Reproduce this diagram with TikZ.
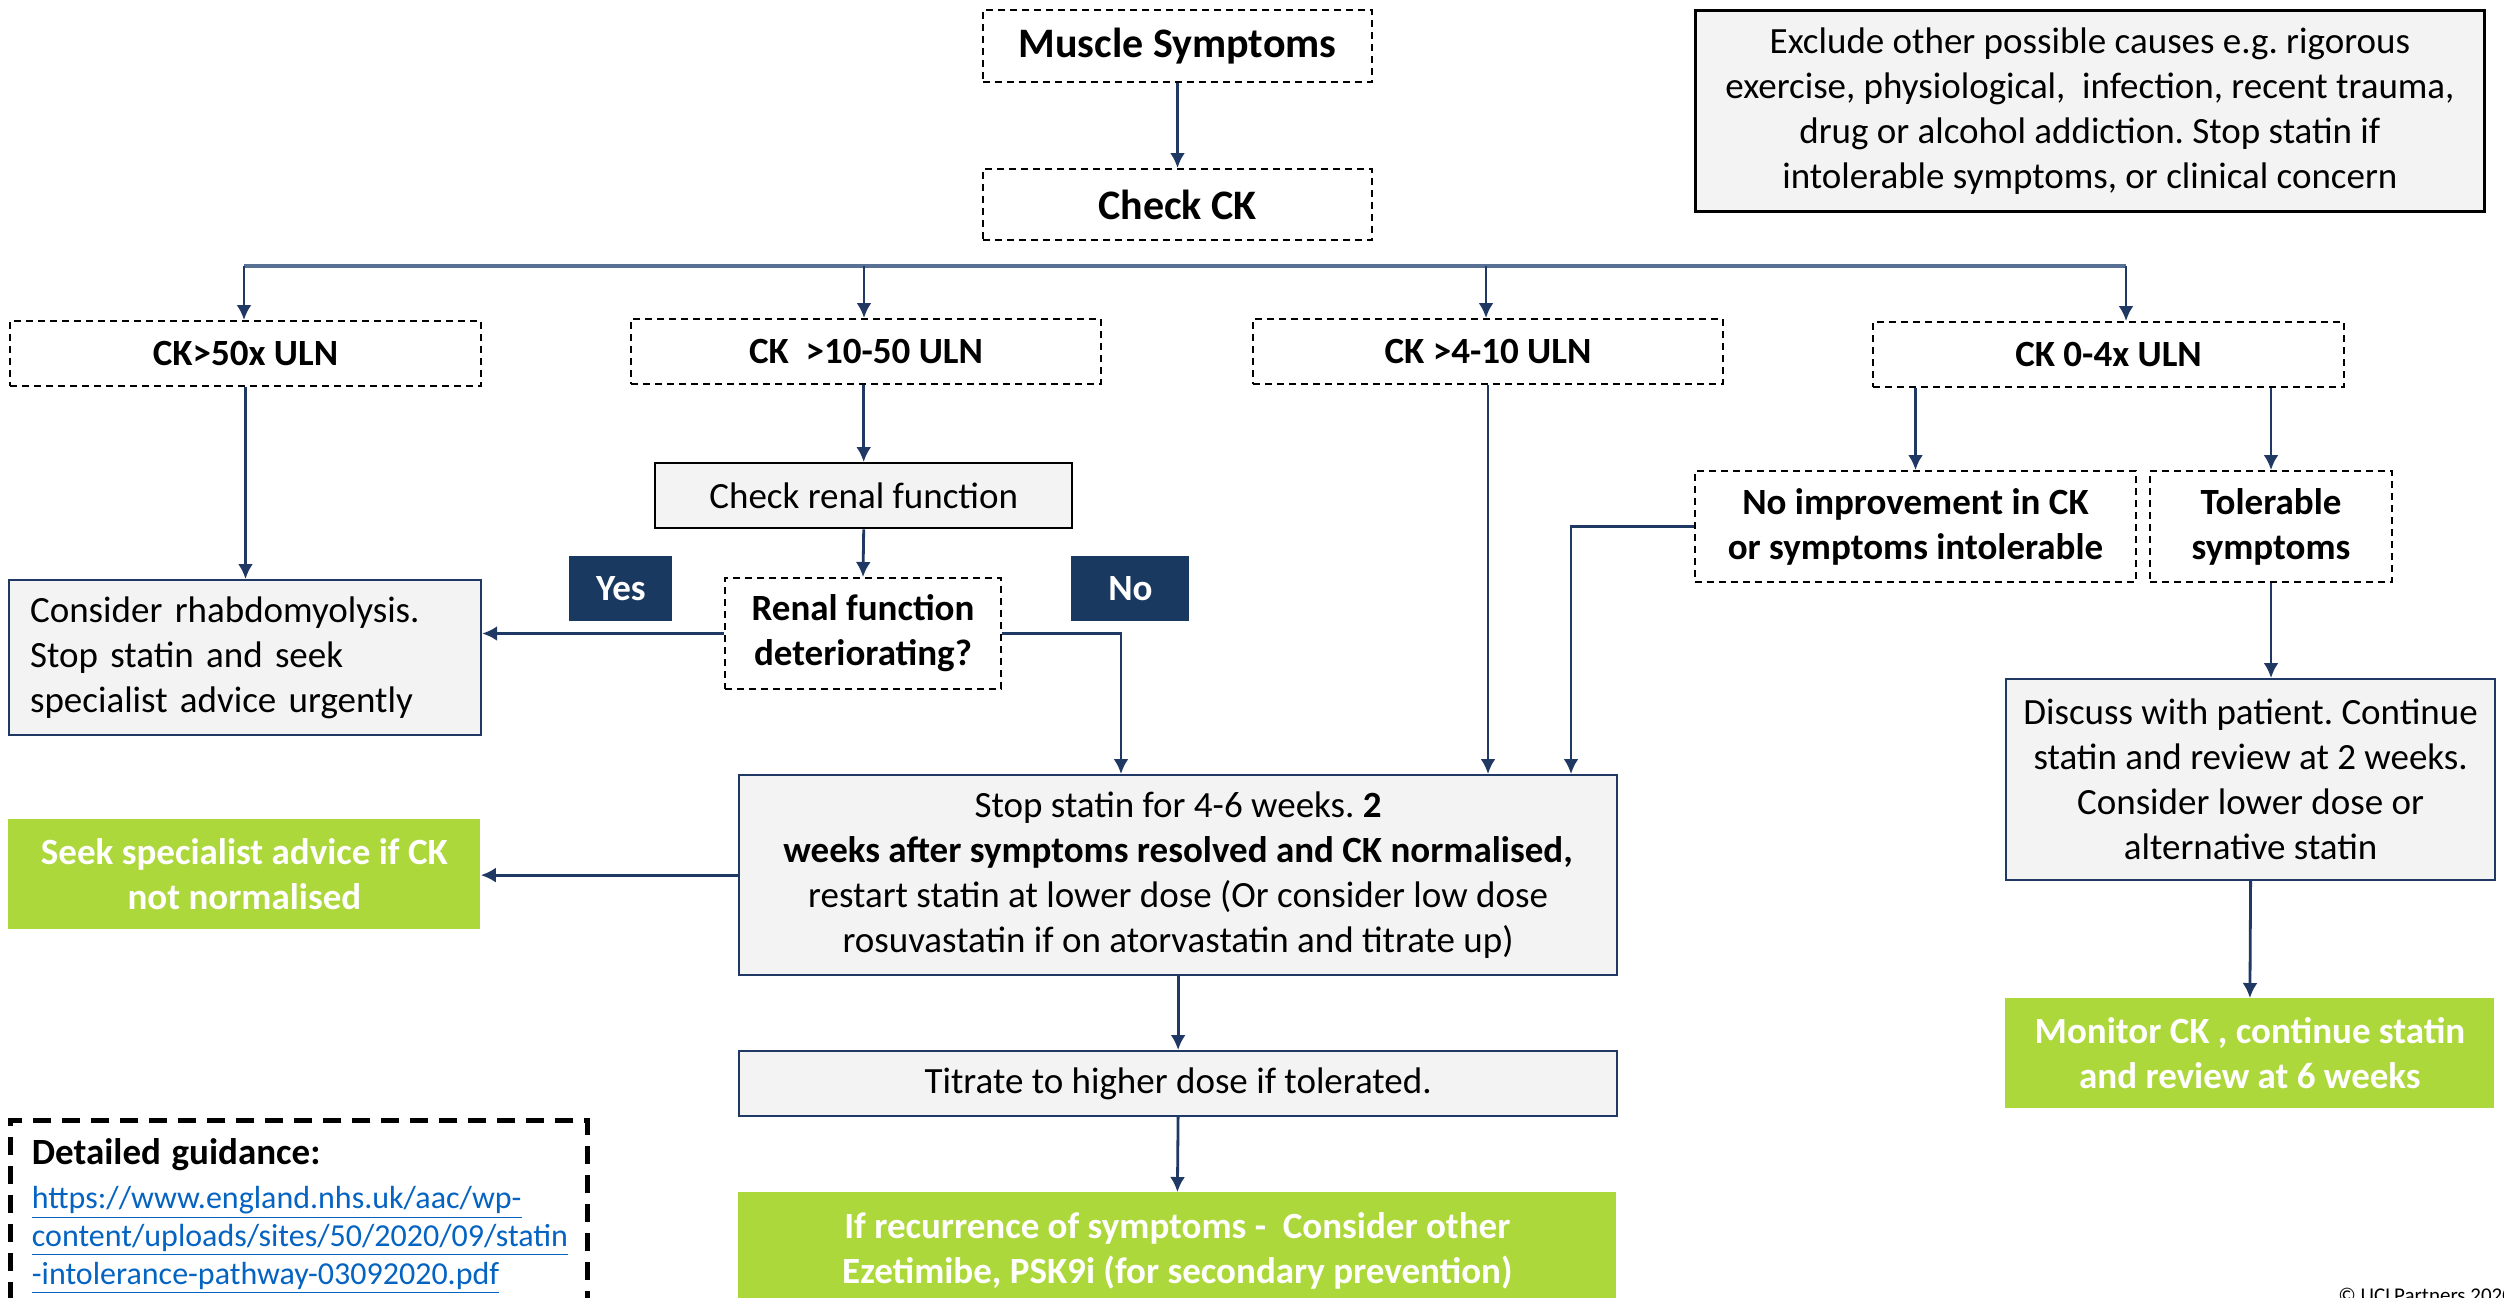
\documentclass[tikz,border=0pt]{standalone}
\usepackage{fontspec}
\setmainfont{Carlito}
\usetikzlibrary{arrows.meta,calc}
\definecolor{navy}{RGB}{31,56,100}
\definecolor{busc}{RGB}{88,112,148}
\definecolor{boxgray}{RGB}{243,243,243}
\definecolor{lime}{RGB}{173,216,60}
\definecolor{linkblue}{RGB}{5,99,193}
\definecolor{tagfill}{RGB}{26,57,96}
\newcommand\myfs[2]{\fontsize{#1}{#2}\selectfont}
\newcommand\mkbox[7]{%
  \pgfmathsetmacro\mkw{(#5-#3)*0.5}%
  \pgfmathsetmacro\mkh{(#6-#4)*0.5}%
  \node[#2, minimum width=\mkw pt, minimum height=\mkh pt, anchor=north west] (#1) at (#3,#4) {#7};%
}
\frenchspacing
\begin{document}
\begin{tikzpicture}[x=0.5pt,y=-0.5pt,
  basebox/.style={inner sep=2pt, align=center, font=\myfs{18.5}{22.5}},
  dashbox/.style={basebox, draw=black, line width=1pt, dash pattern=on 3.5pt off 2.5pt, fill=white, font=\bfseries\myfs{18.5}{22.5}},
  bigdash/.style={dashbox, font=\bfseries\myfs{21}{25}},
  graybox/.style={basebox, draw=navy, line width=1.1pt, fill=boxgray},
  blackbox/.style={graybox, draw=black, line width=1.2pt},
  greenbox/.style={basebox, fill=lime, text=white, font=\bfseries\myfs{18.5}{22.5}},
  tagbox/.style={basebox, fill=tagfill, text=white, font=\bfseries\myfs{18.5}{22.5}},
  conn/.style={draw=navy, line width=1.4pt, -{Latex[length=7.5pt,width=7.5pt]}},
  busline/.style={draw=busc, line width=2pt}
]
\useasboundingbox (0,0) rectangle (2504,1297);
\clip (0,0) rectangle (2504,1297);

% top
\mkbox{ms}{bigdash}{982}{9}{1371}{81}{Muscle Symptoms}
\mkbox{chk}{bigdash}{982}{168}{1371}{239}{Check CK}
\mkbox{excl}{blackbox, line width=1.4pt}{1694}{9}{2483}{210}{Exclude other possible causes e.g. rigorous\\exercise, physiological,\ \ infection, recent trauma,\\drug or alcohol addiction. Stop statin if\\intolerable symptoms, or clinical concern}

% CK levels
\mkbox{ck50}{dashbox}{9}{320}{480}{385}{CK>50x ULN}
\mkbox{ck1050}{dashbox}{630}{318}{1100}{383}{CK\ \ >10-50 ULN}
\mkbox{ck410}{dashbox}{1252}{318}{1722}{383}{CK >4-10 ULN}
\mkbox{ck04}{dashbox}{1872}{321}{2343}{386}{CK 0-4x ULN}

% middle
\mkbox{renal}{blackbox}{654}{462}{1071}{527}{Check renal function}
\mkbox{det}{dashbox}{724}{577}{1000}{688}{Renal function\\deteriorating?}
\mkbox{yes}{tagbox}{569}{556}{672}{621}{Yes}
\mkbox{no}{tagbox}{1071}{556}{1189}{621}{No}
\mkbox{rhabdo}{graybox, align=left, text width=215pt}{8}{579}{480}{734}{Consider rhabdomyolysis.\\Stop statin and seek\\specialist advice urgently}
\mkbox{noimp}{dashbox}{1694}{470}{2135}{581}{No improvement in CK\\or symptoms intolerable}
\mkbox{tol}{dashbox}{2149}{470}{2391}{581}{Tolerable\\symptoms}
\mkbox{discuss}{graybox}{2005}{678}{2494}{879}{Discuss with patient. Continue\\statin and review at 2 weeks.\\Consider lower dose or\\alternative statin}
\mkbox{monitor}{greenbox}{2005}{998}{2494}{1108}{Monitor CK , continue statin\\and review at 6 weeks}

% lower
\mkbox{stop}{graybox}{738}{774}{1616}{974}{Stop statin for 4-6 weeks. \textbf{2}\\\textbf{weeks after symptoms resolved and CK normalised,}\\restart statin at lower dose (Or consider low dose\\rosuvastatin if on atorvastatin and titrate up)}
\mkbox{seek}{greenbox}{8}{819}{480}{929}{Seek specialist advice if CK\\not normalised}
\mkbox{titrate}{graybox}{738}{1050}{1616}{1115}{Titrate to higher dose if tolerated.}
\mkbox{final}{greenbox}{738}{1192}{1616}{1310}{If recurrence of symptoms -\ \ Consider other\\Ezetimibe, PSK9i (for secondary prevention)}
\mkbox{guide}{basebox, draw=black, line width=2.4pt, dash pattern=on 9pt off 5.5pt, align=left, text width=267pt, font=\myfs{16}{19}}{8}{1118}{585}{1310}{{\myfs{18.5}{19}\bfseries Detailed guidance:}\\[3pt]\color{linkblue}\underline{https://www.england.nhs.uk/aac/wp-}\\\underline{content/uploads/sites/50/2020/09/statin}\\\underline{-intolerance-pathway-03092020.pdf}}
\node[anchor=base west, font=\myfs{10.5}{12.5}, inner sep=0pt] (copy) at (2338,1302) {© UCLPartners 2020};

% bus
\coordinate (b1) at (244,266);
\coordinate (b2) at (864,266);
\coordinate (b3) at (1486,266);
\coordinate (b4) at (2126,266);
\draw[busline] (b1) -- (b4);
\draw[conn] (b1) -- (b1 |- ck50.north);
\draw[conn] (b2) -- (b2 |- ck1050.north);
\draw[conn] (b3) -- (b3 |- ck410.north);
\draw[conn] (b4) -- (b4 |- ck04.north);

% connectors
\draw[conn] (ms.south) -- (chk.north);
\draw[conn] (ck50.south) -- (ck50.south |- rhabdo.north);
\draw[conn] (renal.north |- ck1050.south) -- (renal.north);
\draw[conn] (renal.south) -- (det.north);
\draw[conn] (det.west) -- (det.west -| rhabdo.east);
\coordinate (nox) at (1121,0);
\draw[conn] (det.east) -| (nox |- stop.north);
\draw[conn] (ck410.south) -- (ck410.south |- stop.north);
\coordinate (nix) at (1571,0);
\draw[conn] (noimp.west) -| (nix |- stop.north);
\draw[conn] (noimp.north |- ck04.south) -- (noimp.north);
\draw[conn] (tol.north |- ck04.south) -- (tol.north);
\draw[conn] (tol.south) -- (tol.south |- discuss.north);
\draw[conn] (discuss.south) -- (monitor.north);
\draw[conn] (stop.west) -- (stop.west -| seek.east);
\draw[conn] (stop.south) -- (titrate.north);
\draw[conn] (titrate.south) -- (final.north);
\end{tikzpicture}
\end{document}
